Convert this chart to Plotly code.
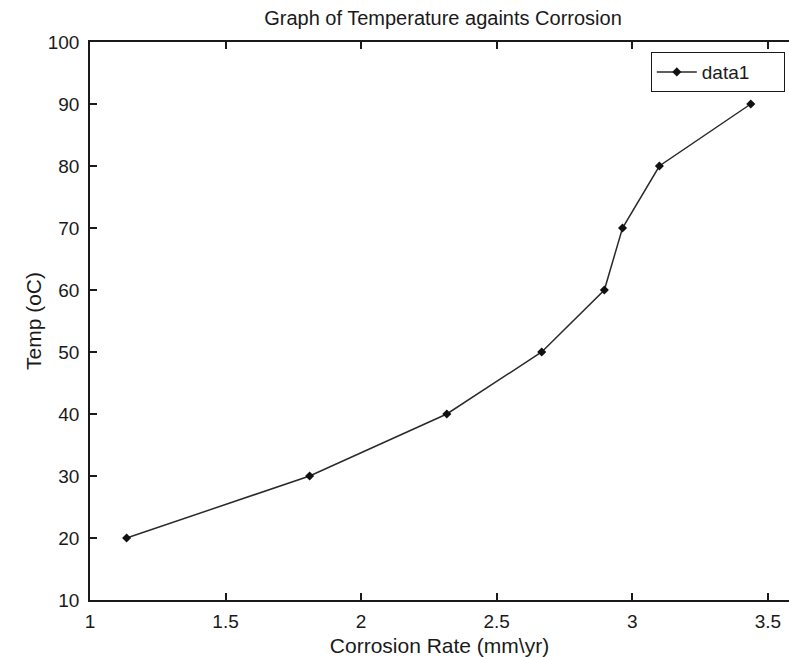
import plotly.graph_objects as go

corrosion_rate = [1.135, 1.81, 2.316, 2.666, 2.897, 2.964, 3.10, 3.437]
temperature = [20, 30, 40, 50, 60, 70, 80, 90]
x_ticks = [1, 1.5, 2, 2.5, 3, 3.5]
y_ticks = [10, 20, 30, 40, 50, 60, 70, 80, 90, 100]

FONT = "Liberation Sans, Arial, sans-serif"
INK = "#1a1a1a"

fig = go.Figure()
fig.add_trace(go.Scatter(
    x=corrosion_rate, y=temperature, mode="lines+markers", name="data1",
    line=dict(color="#2a2a2a", width=1.5),
    marker=dict(symbol="diamond", size=7, color="#111111"),
))

fig.update_layout(
    width=789, height=657,
    margin=dict(l=90, r=0, t=42, b=57),
    paper_bgcolor="white", plot_bgcolor="white",
    font=dict(family=FONT, color=INK),
    title=dict(text="Graph of Temperature againts Corrosion", x=0.505, xref="paper",
               y=0.973, yref="container", yanchor="middle",
               font=dict(size=20, color=INK, family=FONT)),
    showlegend=True,
    legend=dict(x=0.994, y=0.982, xanchor="right", yanchor="top",
                orientation="h", entrywidth=77, itemwidth=40,
                bgcolor="white", bordercolor=INK, borderwidth=1,
                font=dict(size=19, color=INK, family=FONT)),
)
fig.update_xaxes(
    range=[1, 3.578], tickvals=x_ticks, ticktext=[str(v) for v in x_ticks],
    showgrid=False, zeroline=False, showline=True, linecolor=INK, linewidth=1.5,
    mirror="ticks", ticks="inside", ticklen=7, tickcolor=INK, tickwidth=1.5,
    ticklabelstandoff=3,
    tickfont=dict(size=19, color=INK, family=FONT),
    title=dict(text="Corrosion Rate (mm\\yr)", font=dict(size=21, color=INK, family=FONT), standoff=8),
)
fig.update_yaxes(
    range=[10, 100], tickvals=y_ticks,
    showgrid=False, zeroline=False, showline=True, linecolor=INK, linewidth=1.5,
    ticks="inside", ticklen=7, tickcolor=INK, tickwidth=1.5,
    ticklabelstandoff=5,
    tickfont=dict(size=19, color=INK, family=FONT),
    title=dict(text="Temp (oC)", font=dict(size=21, color=INK, family=FONT), standoff=0),
)

fig.write_html("out.html")
